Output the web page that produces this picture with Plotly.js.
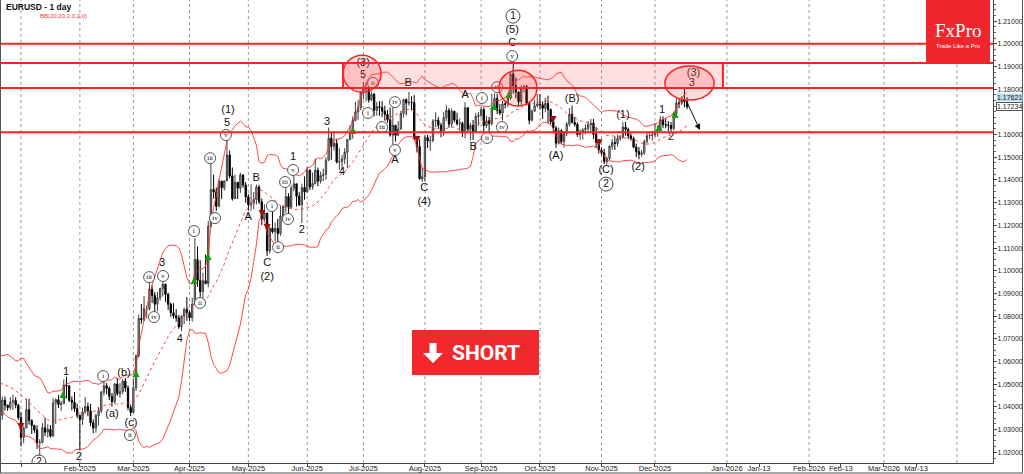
<!DOCTYPE html>
<html><head><meta charset="utf-8">
<script src="https://cdn.plot.ly/plotly-3.0.1.min.js"></script>
<style>html,body{margin:0;padding:0;background:#fff;}#chart{width:1024px;height:474px;}</style>
</head><body><div id="chart"></div>
<script>
// Daily EURUSD bars: index 0 = 22 Nov 2024 (first 19 bars are the Bollinger warm-up, off screen), last = 17 Dec 2025
const closeP = [
1.0417,1.0494,1.0487,1.0566,1.0554,1.0577,1.0498,1.0510,1.0513,1.0587,1.0567,1.0554,1.0528,1.0498,1.0468,1.0500,1.0512,1.0490,1.0352,
1.0363,1.0430,1.0408,1.0397,1.0422,1.0428,1.0408,1.0353,
1.0266,1.0307,1.0388,1.0340,1.0318,1.0298,1.0242,1.0244,1.0308,1.0289,1.0301,1.0272,1.0418,1.0432,1.0411,1.0414,1.0496,1.0492,1.0430,1.0421,1.0392,1.0362,
1.0345,1.0378,1.0402,1.0383,1.0330,1.0307,1.0362,1.0383,1.0465,1.0493,1.0482,1.0447,1.0423,1.0501,1.0458,1.0467,1.0514,1.0484,1.0398,1.0376,
1.0484,1.0626,1.0790,1.0785,1.0833,1.0833,1.0919,1.0891,1.0853,1.0881,1.0922,1.0941,1.0896,1.0852,1.0815,1.0801,1.0792,1.0753,1.0799,1.0830,1.0816,
1.0793,1.0852,1.1050,1.0958,1.0908,1.0956,1.0944,1.1196,1.1358,1.1348,1.1284,1.1395,1.1366,1.1396,1.1510,1.1418,1.1318,1.1390,1.1364,1.1422,1.1378,1.1326,
1.1291,1.1298,1.1314,1.1369,1.1304,1.1228,1.1254,1.1088,1.1187,1.1172,1.1187,1.1164,1.1241,1.1283,1.1327,1.1280,1.1364,1.1383,1.1328,1.1290,1.1367,1.1347,
1.1443,1.1370,1.1385,1.1443,1.1395,1.1420,1.1425,1.1487,1.1584,1.1548,1.1562,1.1479,1.1480,1.1493,1.1522,1.1578,1.1610,1.1661,1.1700,1.1718,1.1786,
1.1800,1.1800,1.1753,1.1778,1.1707,1.1723,1.1719,1.1703,1.1689,1.1665,1.1598,1.1641,1.1597,1.1625,1.1693,1.1754,1.1739,1.1742,1.1741,1.1588,1.1547,1.1405,1.1414,
1.1587,1.1572,1.1574,1.1660,1.1663,1.1641,1.1616,1.1675,1.1706,1.1646,1.1703,1.1664,1.1648,1.1650,1.1608,1.1718,1.1624,1.1640,1.1609,1.1680,1.1685,
1.1710,1.1640,1.1661,1.1648,1.1717,1.1760,1.1707,1.1695,1.1735,1.1734,1.1760,1.1867,1.1816,1.1787,1.1745,1.1804,1.1812,1.1738,1.1663,1.1703,1.1727,1.1735,
1.1731,1.1716,1.1738,1.1710,1.1657,1.1629,1.1562,1.1617,1.1569,1.1605,1.1646,1.1690,1.1653,1.1645,1.1600,1.1609,1.1621,1.1627,1.1643,1.1650,1.1601,1.1566,1.1532,
1.1520,1.1481,1.1494,1.1548,1.1565,1.1561,1.1583,1.1588,1.1633,1.1622,1.1594,1.1582,1.1545,1.1525,1.1513,1.1520,1.1570,1.1595,1.1597,1.1598,
1.1610,1.1623,1.1666,1.1644,1.1642,1.1640,1.1627,1.1693,1.1740,1.1738,1.1752,1.1745,1.1723];
const highP = [
1.0471,1.0537,1.0515,1.0590,1.0575,1.0597,1.0565,1.0540,1.0545,1.0597,1.0630,1.0595,1.0565,1.0545,1.0522,1.0521,1.0530,1.0527,1.0515,
1.0425,1.0445,1.0446,1.0410,1.0443,1.0455,1.0443,1.0414,
1.0376,1.0315,1.0437,1.0436,1.0345,1.0322,1.0319,1.0258,1.0329,1.0353,1.0323,1.0320,1.0438,1.0437,1.0453,1.0427,1.0521,1.0533,1.0497,1.0446,1.0466,1.0414,
1.0365,1.0398,1.0443,1.0419,1.0413,1.0345,1.0370,1.0400,1.0470,1.0513,1.0506,1.0490,1.0461,1.0505,1.0528,1.0505,1.0522,1.0528,1.0495,1.0410,
1.0524,1.0631,1.0807,1.0854,1.0889,1.0847,1.0947,1.0935,1.0906,1.0906,1.0925,1.0955,1.0942,1.0903,1.0860,1.0857,1.0831,1.0805,1.0804,1.0838,1.0884,
1.0826,1.0881,1.1144,1.1107,1.1046,1.0990,1.1072,1.1220,1.1473,1.1423,1.1367,1.1403,1.1389,1.1397,1.1573,1.1529,1.1455,1.1424,1.1385,1.1432,1.1425,1.1391,
1.1337,1.1381,1.1347,1.1380,1.1379,1.1318,1.1293,1.1250,1.1192,1.1266,1.1212,1.1229,1.1287,1.1290,1.1364,1.1342,1.1376,1.1419,1.1383,1.1346,1.1384,1.1416,
1.1455,1.1447,1.1433,1.1495,1.1455,1.1437,1.1450,1.1500,1.1631,1.1613,1.1614,1.1581,1.1540,1.1510,1.1540,1.1581,1.1641,1.1680,1.1745,1.1753,1.1790,
1.1830,1.1828,1.1809,1.1790,1.1783,1.1744,1.1747,1.1747,1.1727,1.1708,1.1720,1.1721,1.1638,1.1659,1.1705,1.1758,1.1760,1.1788,1.1769,1.1774,1.1595,1.1579,1.1454,
1.1599,1.1599,1.1595,1.1668,1.1699,1.1678,1.1652,1.1700,1.1730,1.1717,1.1715,1.1703,1.1697,1.1671,1.1657,1.1743,1.1720,1.1652,1.1664,1.1696,1.1700,
1.1720,1.1720,1.1683,1.1678,1.1780,1.1781,1.1780,1.1735,1.1749,1.1750,1.1768,1.1878,1.1918,1.1852,1.1790,1.1818,1.1819,1.1820,1.1745,1.1711,1.1754,1.1779,
1.1778,1.1746,1.1762,1.1772,1.1715,1.1666,1.1637,1.1631,1.1624,1.1616,1.1656,1.1717,1.1728,1.1678,1.1654,1.1623,1.1628,1.1645,1.1660,1.1669,1.1669,1.1633,1.1580,
1.1544,1.1537,1.1503,1.1554,1.1581,1.1592,1.1600,1.1598,1.1655,1.1656,1.1630,1.1605,1.1591,1.1560,1.1545,1.1532,1.1577,1.1611,1.1608,1.1617,
1.1650,1.1641,1.1681,1.1680,1.1671,1.1660,1.1655,1.1700,1.1762,1.1760,1.1769,1.1804,1.1765];
const lowP = [
1.0332,1.0425,1.0423,1.0470,1.0535,1.0541,1.0461,1.0473,1.0461,1.0498,1.0535,1.0534,1.0509,1.0480,1.0451,1.0455,1.0487,1.0472,1.0344,
1.0343,1.0343,1.0384,1.0383,1.0388,1.0388,1.0394,1.0343,
1.0226,1.0240,1.0309,1.0322,1.0281,1.0286,1.0215,1.0178,1.0239,1.0272,1.0266,1.0265,1.0269,1.0325,1.0395,1.0383,1.0413,1.0437,1.0422,1.0385,1.0378,1.0351,
1.0210,1.0321,1.0370,1.0359,1.0315,1.0284,1.0286,1.0318,1.0372,1.0450,1.0456,1.0430,1.0401,1.0415,1.0450,1.0441,1.0457,1.0467,1.0385,1.0360,
1.0388,1.0470,1.0617,1.0766,1.0777,1.0791,1.0824,1.0858,1.0808,1.0821,1.0869,1.0887,1.0862,1.0827,1.0797,1.0789,1.0775,1.0744,1.0733,1.0765,1.0779,
1.0778,1.0776,1.0855,1.0929,1.0885,1.0877,1.0940,1.0927,1.1198,1.1317,1.1263,1.1280,1.1317,1.1353,1.1413,1.1408,1.1309,1.1330,1.1316,1.1343,1.1366,1.1300,
1.1266,1.1264,1.1271,1.1291,1.1294,1.1201,1.1218,1.1065,1.1076,1.1164,1.1131,1.1124,1.1154,1.1218,1.1256,1.1249,1.1275,1.1351,1.1283,1.1286,1.1210,1.1313,
1.1345,1.1356,1.1357,1.1380,1.1372,1.1385,1.1395,1.1401,1.1483,1.1489,1.1530,1.1473,1.1445,1.1445,1.1470,1.1452,1.1575,1.1582,1.1660,1.1665,1.1707,
1.1755,1.1745,1.1741,1.1747,1.1680,1.1683,1.1683,1.1677,1.1662,1.1652,1.1591,1.1556,1.1569,1.1595,1.1622,1.1675,1.1685,1.1727,1.1707,1.1577,1.1521,1.1401,1.1391,
1.1392,1.1541,1.1528,1.1566,1.1632,1.1625,1.1588,1.1593,1.1660,1.1630,1.1632,1.1654,1.1640,1.1617,1.1590,1.1583,1.1613,1.1574,1.1576,1.1620,1.1639,
1.1675,1.1610,1.1630,1.1607,1.1640,1.1712,1.1690,1.1686,1.1662,1.1715,1.1720,1.1753,1.1781,1.1760,1.1726,1.1730,1.1785,1.1729,1.1645,1.1657,1.1700,1.1719,
1.1710,1.1669,1.1698,1.1650,1.1645,1.1610,1.1542,1.1556,1.1558,1.1542,1.1593,1.1636,1.1650,1.1635,1.1590,1.1577,1.1578,1.1602,1.1610,1.1610,1.1580,1.1541,1.1517,
1.1508,1.1470,1.1468,1.1487,1.1533,1.1532,1.1547,1.1573,1.1583,1.1595,1.1580,1.1573,1.1540,1.1500,1.1491,1.1502,1.1510,1.1560,1.1580,1.1574,
1.1590,1.1590,1.1617,1.1630,1.1628,1.1616,1.1614,1.1618,1.1680,1.1716,1.1730,1.1720,1.1712];

// x-axis ticks (bar index of month starts; future months as drawn by the terminal)
const tickPos  = [27,49,69,90,112,134,155,178,199,221,244,264,290.9,302.9,321.6,333.5,349.6,361.6];
const tickText = ['','Feb-2025','Mar-2025','Apr-2025','May-2025','Jun-2025','Jul-2025','Aug-2025','Sep-2025','Oct-2025','Nov-2025','Dec-2025','Jan-2026','Jan-13','Feb-2026','Feb-13','Mar-2026','Mar-13'];
const gridPos  = [27,49,69,90,112,134,155,178,199,221,244,264,290.9,321.6,349.6,376.9];
const yTicks   = [1.02,1.03,1.04,1.05,1.06,1.07,1.08,1.09,1.10,1.11,1.12,1.13,1.14,1.15,1.16,1.18,1.19,1.20,1.21];

// Elliott wave labels
const waveText  = ['1','2','(a)','(b)','(c)','3','4','(1)','5','A','B','C','(2)','1','2','3','4','(3)','5','A','B','C','(4)','A','B','C','(5)','(A)','(B)','(C)','(1)','(2)','1','2','(3)','3'];
const waveIdx   = [43.8,48.7,61.0,65.5,68.1,79.7,86.4,104.4,104.0,111.9,114.9,119.0,119.0,128.7,132.0,141.4,147.0,154.9,154.9,166.8,171.7,177.7,177.7,193.0,196.0,210.6,210.6,227.0,233.0,245.7,252.0,257.7,266.6,270.0,278.4,277.8];
const wavePrice = [1.0554,1.0179,1.0369,1.0549,1.0329,1.1034,1.0699,1.1708,1.1651,1.1237,1.1408,1.1034,1.0972,1.1501,1.1179,1.1656,1.1432,1.1915,1.1862,1.1488,1.1827,1.1364,1.1303,1.1774,1.1545,1.2003,1.2060,1.1505,1.1756,1.1444,1.1686,1.1457,1.1708,1.1589,1.1872,1.1826];

const romanText  = ['i','ii','iii','iv','v','i','ii','iii','iv','v','i','ii','iii','iv','v','i','ii','iii','iv','v','i','ii','iii','iv','v'];
const romanIdx   = [57.7,67.7,74.9,76.7,80.1,91.7,93.9,97.7,99.5,103.6,120.8,123.1,125.7,126.8,128.7,156.7,158.6,162.0,166.8,166.8,199.3,201.2,205.0,206.8,210.6];
const romanPrice = [1.0536,1.0276,1.0972,1.0796,1.0977,1.1175,1.0858,1.1496,1.1232,1.1598,1.1285,1.1104,1.1391,1.1228,1.1444,1.1695,1.1827,1.1633,1.1743,1.1532,1.1761,1.1585,1.1809,1.1633,1.1946];

const circText  = ['2','1','2'];
const circIdx   = [33.7,210.9,245.7];
const circPrice = [1.0157,1.2122,1.1382];

// indicator signals
const upIdx   = [42.7,70.0,91.7,96.9,151.1,203.8,209.4,265.5,271.5];
const upPrice = [1.0470,1.0563,1.0972,1.1078,1.1633,1.1739,1.1792,1.1647,1.1704];
const dnIdx   = [27.0,117.1,119.0,175.0,225.9,243.1];
const dnPrice = [1.0298,1.1237,1.1175,1.1563,1.1651,1.1549];

// levels
const resistTop = 1.1915, resistBot = 1.1805, level120 = 1.2000, support = 1.1610;
const lastBid = 1.17621, lastClose = 1.17234;

const idx = closeP.map((_, i) => i);
const openP = closeP.map((c, i) => i === 0 ? c : closeP[i - 1]);
const bbUp = [], bbMid = [], bbLo = [];
for (let i = 0; i < closeP.length; i++) {
  if (i < 19) { bbUp.push(null); bbMid.push(null); bbLo.push(null); continue; }
  let s = 0; for (let j = i - 19; j <= i; j++) s += closeP[j];
  const m = s / 20; let v = 0;
  for (let j = i - 19; j <= i; j++) v += (closeP[j] - m) * (closeP[j] - m);
  const sd = Math.sqrt(v / 20);
  bbUp.push(m + 2 * sd); bbMid.push(m); bbLo.push(m - 2 * sd);
}

const red = '#ff2020';
const traces = [
  {type:'scatter', mode:'lines', x:idx, y:bbUp, line:{color:'rgba(255,40,40,0.85)', width:1}, hoverinfo:'skip'},
  {type:'scatter', mode:'lines', x:idx, y:bbLo, line:{color:'rgba(255,40,40,0.85)', width:1}, hoverinfo:'skip'},
  {type:'scatter', mode:'lines', x:idx, y:bbMid, line:{color:'rgba(255,40,40,0.85)', width:1, dash:'dot'}, hoverinfo:'skip'},
  {type:'candlestick', x:idx, open:openP, high:highP, low:lowP, close:closeP, whiskerwidth:0,
   increasing:{line:{color:'#404040', width:1}, fillcolor:'#b0b0b0'},
   decreasing:{line:{color:'#000000', width:1}, fillcolor:'#000000'}, hoverinfo:'skip'},
  {type:'scatter', mode:'markers', x:upIdx, y:upPrice, marker:{symbol:'arrow-up', size:7, color:'#10a010'}, hoverinfo:'skip'},
  {type:'scatter', mode:'markers', x:dnIdx, y:dnPrice, marker:{symbol:'arrow-down', size:7, color:'#a01010'}, hoverinfo:'skip'},
  {type:'scatter', mode:'text', x:waveIdx, y:wavePrice, text:waveText, textposition:'middle center',
   textfont:{family:'Liberation Sans, Arial', size:11, color:'#111'}, hoverinfo:'skip'},
  {type:'scatter', mode:'markers+text', x:romanIdx, y:romanPrice, text:romanText, textposition:'middle center',
   marker:{symbol:'circle', size:11, color:'#ffffff', line:{color:'#555', width:1}},
   textfont:{family:'Liberation Serif, Times New Roman', size:7, color:'#111'}, hoverinfo:'skip'},
  {type:'scatter', mode:'markers+text', x:circIdx, y:circPrice, text:circText, textposition:'middle center',
   marker:{symbol:'circle', size:14, color:'#ffffff', line:{color:'#444', width:1}},
   textfont:{family:'Liberation Sans, Arial', size:10, color:'#111'}, hoverinfo:'skip'}
];

const px = v => (v - 1) / 992;          // pixel -> paper x
const py = v => 1 - v / 463;            // pixel -> paper y
const shapes = [];
gridPos.forEach(g => shapes.push({type:'line', xref:'x', yref:'paper', x0:g, x1:g, y0:0, y1:1, layer:'below', line:{color:'#9a9a9a', width:1, dash:'dot'}}));
[level120, resistTop, resistBot, support].forEach(l => shapes.push({type:'line', xref:'paper', yref:'y', x0:0, x1:1, y0:l, y1:l, line:{color:red, width:2}}));
shapes.push({type:'rect', xref:'x', yref:'y', x0:147.4, x1:289.4, y0:resistBot, y1:resistTop, fillcolor:'rgba(255,80,80,0.18)', line:{color:red, width:2}});
shapes.push({type:'circle', xref:'x', yref:'y', x0:147.4, x1:161.6, y0:1.1787, y1:1.1950, fillcolor:'rgba(255,60,60,0.18)', line:{color:red, width:1.5}});
shapes.push({type:'circle', xref:'x', yref:'y', x0:205.7, x1:219.9, y0:1.1726, y1:1.1884, fillcolor:'rgba(255,60,60,0.18)', line:{color:red, width:1.5}});
shapes.push({type:'circle', xref:'x', yref:'y', x0:267.7, x1:286.1, y0:1.1752, y1:1.1902, fillcolor:'rgba(255,60,60,0.18)', line:{color:red, width:1.5}});
// logo box
shapes.push({type:'rect', xref:'paper', yref:'paper', x0:px(926), x1:px(990), y0:py(63), y1:py(0), fillcolor:'#f0262c', line:{width:0}});
// SHORT button
shapes.push({type:'rect', xref:'paper', yref:'paper', x0:px(412), x1:px(539), y0:py(375), y1:py(330), fillcolor:'#f2282d', line:{width:0}});
shapes.push({type:'path', xref:'paper', yref:'paper', fillcolor:'#ffffff', line:{width:0},
  path:`M${px(429.5)},${py(343)} L${px(436.5)},${py(343)} L${px(436.5)},${py(353)} L${px(443)},${py(353)} L${px(433)},${py(363)} L${px(423)},${py(353)} L${px(429.5)},${py(353)} Z`});
// outer frame
shapes.push({type:'line', xref:'paper', yref:'paper', x0:px(0), x1:px(1023), y0:py(473), y1:py(473), line:{color:'#555', width:1}});
shapes.push({type:'line', xref:'paper', yref:'paper', x0:px(1022.5), x1:px(1022.5), y0:py(0), y1:py(473), line:{color:'#555', width:1}});
shapes.push({type:'line', xref:'paper', yref:'paper', x0:px(0.5), x1:px(0.5), y0:py(0), y1:py(473), line:{color:'#555', width:1}});

const annotations = [
  {xref:'paper', yref:'paper', x:px(4), y:py(7), xanchor:'left', yanchor:'middle', showarrow:false,
   text:'<b>EURUSD - 1 day</b>', font:{family:'Liberation Sans, Arial', size:8.5, color:'#111'}},
  {xref:'paper', yref:'paper', x:px(38), y:py(16), xanchor:'left', yanchor:'middle', showarrow:false,
   text:'BB(20,20,2.0,2.0)', font:{family:'Liberation Sans, Arial', size:6, color:'#ff3030'}},
  {xref:'x', yref:'y', x:280.8, y:1.1620, ax:-14, ay:-30, showarrow:true, arrowhead:2, arrowsize:1.2, arrowwidth:1, arrowcolor:'#111', text:''},
  {xref:'paper', yref:'y', x:1.003, y:lastBid, xanchor:'left', yanchor:'middle', showarrow:false, text:'1.17621',
   bgcolor:'#bcdcec', borderpad:0, font:{family:'Liberation Sans, Arial', size:7, color:'#222'}},
  {xref:'paper', yref:'y', x:1.003, y:lastClose, xanchor:'left', yanchor:'middle', showarrow:false, text:'1.17234',
   bgcolor:'#ffffff', bordercolor:'#555', borderwidth:1, borderpad:0, font:{family:'Liberation Sans, Arial', size:7, color:'#222'}},
  {xref:'paper', yref:'paper', x:px(958), y:py(30), xanchor:'center', yanchor:'middle', showarrow:false,
   text:'FxPro', font:{family:'Liberation Serif, Times New Roman', size:19, color:'#ffffff'}},
  {xref:'paper', yref:'paper', x:px(958), y:py(46), xanchor:'center', yanchor:'middle', showarrow:false,
   text:'Trade Like a Pro', font:{family:'Liberation Sans, Arial', size:6, color:'#ffffff'}},
  {xref:'paper', yref:'paper', x:px(485.5), y:py(352.5), xanchor:'center', yanchor:'middle', showarrow:false,
   text:'<b>SHORT</b>', font:{family:'Roboto, Liberation Sans, Arial', size:21, color:'#ffffff'}}
];

const layout = {
  width:1024, height:474, margin:{l:1, r:31, t:0, b:11}, paper_bgcolor:'#ffffff', plot_bgcolor:'#ffffff',
  showlegend:false, hovermode:false,
  xaxis:{range:[19.52, 390.36], showgrid:false, zeroline:false, showline:true, linecolor:'#444', linewidth:1,
    tickmode:'array', tickvals:tickPos, ticktext:tickText, ticks:'outside', ticklen:3, tickcolor:'#444', ticklabelstandoff:-5,
    tickfont:{family:'Liberation Sans, Arial', size:7.5, color:'#222'}, rangeslider:{visible:false}, fixedrange:true},
  yaxis:{range:[1.0153, 1.2193], side:'right', showgrid:false, zeroline:false, showline:true, linecolor:'#444', linewidth:1,
    tickmode:'array', tickvals:yTicks, tickformat:'.5f', ticks:'outside', ticklen:3, tickcolor:'#444', ticklabelstandoff:-1,
    minor:{dtick:0.0025, ticks:'outside', ticklen:2, tickcolor:'#666', showgrid:false},
    tickfont:{family:'Liberation Sans, Arial', size:7, color:'#222'}, fixedrange:true},
  shapes:shapes, annotations:annotations
};
Plotly.newPlot('chart', traces, layout, {staticPlot:true, displayModeBar:false});
</script></body></html>
